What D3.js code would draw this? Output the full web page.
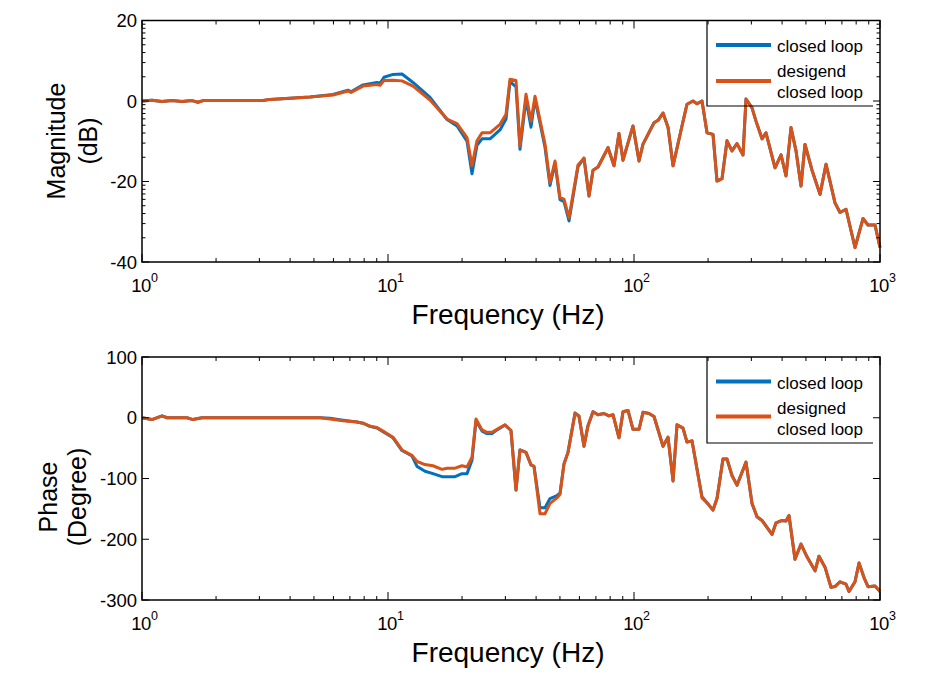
<!DOCTYPE html>
<html><head><meta charset="utf-8">
<script src="https://cdn.jsdelivr.net/npm/d3@7"></script>
<style>body{margin:0;background:#fff} text{font-family:Arial,"Liberation Sans",sans-serif;fill:#000}</style>
</head><body><svg id="c" width="940" height="674"></svg>
<script>
// ---- data ----
const magFreq = [1,1.098,1.206,1.324,1.454,1.597,1.689,1.770,3.104,3.314,4.818,5.976,6.878,7.07,7.914,9.02,9.28,9.63,10.48,11.40,12.64,14.82,17.37,19.08,20.95,21.95,23.00,24.11,25.98,28.53,30.18,31.33,33.14,34.40,36.39,38.13,39.59,43.47,45.56,47.74,50.03,51.93,54.42,59.22,62.62,65.63,68.14,71.41,78.41,82.94,86.90,90.23,99.06,104.8,108.8,120.6,125.2,131.2,137.5,144.1,156.7,164.2,173.7,180.4,189.0,198.1,209.5,217.5,227.9,238.8,250.2,262.2,277.4,285.3,301.8,313.3,331.4,344.0,374.4,396.0,414.9,434.7,455.6,477.4,495.6,529.2,570.4,603.3,656.3,687.8,727.5,791.4,853.0,893.8,954.4,1000];
const magDesigned = [0,0.2,-0.1,0.1,-0.1,0.1,-0.3,0.1,0.1,0.4,1,1.5,2.5,2.1,3.7,4.1,3.9,5.1,5.15,5.0,3.7,0.25,-4.5,-5.6,-9.1,-16.1,-9.9,-7.9,-7.9,-5.8,-3.3,5.4,5.1,-11.2,1.7,-5,1.2,-10.7,-20.3,-14.9,-24,-24.4,-29,-15.9,-14.2,-23.6,-17.2,-16.4,-11.6,-16.1,-8.1,-14.7,-6.2,-14.9,-10.7,-5.4,-4.8,-3,-6.5,-16.1,-6.2,-0.8,0,-0.7,0,-7.9,-8.3,-19.9,-19.3,-9.9,-12.4,-10.6,-13.4,0.5,-1.7,-5,-9.4,-7.9,-16.6,-13.4,-18.6,-6.6,-12.4,-21.1,-10.8,-17.2,-23.2,-15.7,-25.3,-27.7,-26.9,-36.4,-29.2,-30.8,-30.8,-36.4];
const magClosed = [0,0.2,-0.1,0.1,-0.1,0.1,-0.3,0.1,0.1,0.4,1,1.6,2.7,2.3,4.0,4.6,4.4,5.9,6.6,6.7,4.6,0.9,-4.6,-6.2,-10.0,-18.1,-11.0,-9.4,-9.4,-7.2,-4.5,4.8,3.5,-12.0,0.5,-6.5,0.5,-11.5,-21.0,-15.5,-24.5,-25,-29.8,-16.3,-14.2,-23.6,-17.2,-16.4,-11.6,-16.1,-8.1,-14.7,-6.2,-14.9,-10.7,-5.4,-4.8,-3,-6.5,-16.1,-6.2,-0.8,0,-0.7,0,-7.9,-8.3,-19.9,-19.3,-9.9,-12.4,-10.6,-13.4,0.5,-1.7,-5,-9.4,-7.9,-16.6,-13.4,-18.6,-6.6,-12.4,-21.1,-10.8,-17.2,-23.2,-15.7,-25.3,-27.7,-26.9,-36.4,-29.2,-30.8,-30.8,-36.4];

const phaseFreq = [1,1.098,1.206,1.264,1.523,1.612,1.753,5.291,5.811,6.563,7.482,7.914,8.451,9.02,9.546,10.48,11.40,12.52,13.12,14.14,15.23,16.58,17.37,18.73,19.99,20.95,21.95,22.79,24.11,25.26,26.48,27.74,29.90,31.62,33.14,34.40,36.39,38.13,39.22,41.48,43.47,45.56,48.64,50.03,51.93,53.91,57.58,59.77,62.62,65.01,68.14,71.41,75.51,79.14,82.15,86.90,90.23,94.54,99.06,104.8,108.8,115.1,120.6,131.2,137.5,144.1,149.6,158.2,164.2,172.1,189.0,198.1,209.5,217.5,230.0,238.8,250.2,262.2,285.3,301.8,316.2,331.4,363.9,377.9,399.6,414.9,426.7,451.3,477.4,505.0,544.4,564.9,597.6,632.1,656.3,687.8,727.5,748.2,791.4,821.6,861.0,893.8,954.4,1000];
const phaseDesigned = [0,-3,3,0,0,-3,0,0,-2,-5,-7,-9,-14,-16,-22,-32,-53,-62,-72,-77,-79,-85,-83,-83,-79,-81,-65,-2,-20,-24,-24,-19,-11.5,-21,-119,-53,-57,-77,-80,-158,-158,-141,-132,-126,-76,-57,7,2,-47,-13,10,5,7,3,5,-33,10,12,-19,-19,9,7,2,-47,-32,-104,-11.5,-17,-40,-38,-132,-140,-152,-133,-68,-68,-95,-111,-73,-141,-163,-169,-192,-173,-169,-170,-161,-233,-208,-229,-252,-228,-246,-279,-278,-270,-274,-286,-270,-239,-263,-278,-277,-286];
const phaseClosed = [0,-3,3,0,0,-3,0,0,-1,-4,-7,-9,-14,-17,-23,-33,-54,-63,-80,-88,-92,-97,-97,-97,-92,-92,-70,-5,-22,-26,-26,-20,-12,-21,-119,-53,-57,-78,-80,-148,-148,-133,-128,-124,-76,-57,8,3,-47,-13,10,5,7,3,5,-33,10,12,-19,-19,9,7,2,-47,-32,-104,-11.5,-17,-40,-38,-130,-140,-152,-133,-68,-68,-95,-111,-73,-141,-163,-169,-192,-173,-169,-170,-161,-233,-208,-229,-252,-228,-246,-279,-278,-270,-274,-286,-270,-239,-263,-278,-277,-286];

const freqTickExps = [0,1,2,3];
const magTicks = [20,0,-20,-40];
const phaseTicks = [100,0,-100,-200,-300];
const xTitle = "Frequency (Hz)";
const magTitle = ["Magnitude","(dB)"];
const phaseTitle = ["Phase","(Degree)"];
const legendTop = [["closed loop"],["desigend","closed loop"]];
const legendBottom = [["closed loop"],["designed","closed loop"]];
const colors = ["#0072BD","#D95319"];

const svg = d3.select("#c");
const x = d3.scaleLog().domain([1,1000]).range([142,880]);

function panel(o){
  const y = d3.scaleLinear().domain(o.ydom).range(o.yr);
  const g = svg.append("g");
  const top = o.yr[1], bot = o.yr[0], L = 142, R = 880;
  // curves
  const line = d3.line().x((d,i)=>x(o.freq[i])).y(d=>y(d));
  [o.closed,o.designed].forEach((s,k)=>{
    g.append("path").datum(s).attr("d",line).attr("fill","none")
     .attr("stroke",colors[k]).attr("stroke-width",3).attr("stroke-linejoin","round");
  });
  // x ticks (top & bottom)
  const minors = [];
  for(let e=0;e<3;e++) for(let k=2;k<=9;k++) minors.push(k*Math.pow(10,e));
  const tk = g.append("g").attr("stroke","#000").attr("stroke-width",1);
  freqTickExps.forEach(e=>{
    const xx = x(Math.pow(10,e));
    tk.append("line").attr("x1",xx).attr("x2",xx).attr("y1",bot).attr("y2",bot-8);
    tk.append("line").attr("x1",xx).attr("x2",xx).attr("y1",top).attr("y2",top+8);
  });
  minors.forEach(v=>{
    const xx = x(v);
    tk.append("line").attr("x1",xx).attr("x2",xx).attr("y1",bot).attr("y2",bot-4);
    tk.append("line").attr("x1",xx).attr("x2",xx).attr("y1",top).attr("y2",top+4);
  });
  // y ticks
  o.yticks.forEach(v=>{
    const yy = y(v);
    tk.append("line").attr("x1",L).attr("x2",L+7).attr("y1",yy).attr("y2",yy);
    tk.append("line").attr("x1",R).attr("x2",R-7).attr("y1",yy).attr("y2",yy);
  });
  if(o.yminor){
    const st = o.yticks[0]-o.yticks[1];
    o.yticks.slice(1).forEach(v=>{
      for(let k=2;k<=9;k++){
        const yy = y(v + st*Math.log10(k));
        tk.append("line").attr("x1",L).attr("x2",L+3.5).attr("y1",yy).attr("y2",yy);
        tk.append("line").attr("x1",R).attr("x2",R-3.5).attr("y1",yy).attr("y2",yy);
      }
    });
  }
  // frame
  g.append("rect").attr("x",L).attr("y",top).attr("width",R-L).attr("height",bot-top)
   .attr("fill","none").attr("stroke","#000").attr("stroke-width",1.5);
  // y tick labels
  o.yticks.forEach(v=>{
    g.append("text").attr("x",137).attr("y",y(v)+6.5).attr("text-anchor","end")
     .attr("font-size",18.5).text(v);
  });
  // x tick labels
  freqTickExps.forEach(e=>{
    const xx = x(Math.pow(10,e));
    g.append("text").attr("x",xx-1).attr("y",bot+30).attr("text-anchor","middle")
     .attr("font-size",18.5).attr("letter-spacing",-0.5).text("10");
    g.append("text").attr("x",xx+9).attr("y",bot+20).attr("font-size",12.5).text(e);
  });
  // x title
  g.append("text").attr("x",508).attr("y",bot+62).attr("text-anchor","middle")
   .attr("font-size",28).text(xTitle);
  // y title
  o.ytitle.forEach((t,i)=>{
    g.append("text").attr("transform",`translate(${o.ytx[i]},${o.tyc}) rotate(-90)`)
     .attr("text-anchor","middle").attr("font-size",25).text(t);
  });
  // legend
  const lg = g.append("g");
  lg.append("path").attr("d",`M707,${top}V${o.lgBottom}H873`).attr("fill","none")
    .attr("stroke","#000").attr("stroke-width",1.2);
  lg.append("line").attr("x1",716).attr("x2",771).attr("y1",top+o.lgY[0]).attr("y2",top+o.lgY[0])
    .attr("stroke",colors[0]).attr("stroke-width",4);
  lg.append("line").attr("x1",716).attr("x2",771).attr("y1",top+o.lgY[1]).attr("y2",top+o.lgY[1])
    .attr("stroke",colors[1]).attr("stroke-width",4);
  o.legend.forEach((lines,k)=>{
    lines.forEach((t,j)=>{
      lg.append("text").attr("x",777).attr("y",top+o.lgText[k]+j*21).attr("font-size",17).text(t);
    });
  });
}

panel({ydom:[-40,20], yr:[262,20.5], yticks:magTicks, yminor:true,
  freq:magFreq, closed:magClosed, designed:magDesigned,
  ytitle:magTitle, ytx:[65,97], tyc:141, legend:legendTop,
  lgBottom:106, lgY:[24.5,60.5], lgText:[31.5,56.5]});
panel({ydom:[-300,100], yr:[600,357], yticks:phaseTicks, yminor:false,
  freq:phaseFreq, closed:phaseClosed, designed:phaseDesigned,
  ytitle:phaseTitle, ytx:[57,86], tyc:497, legend:legendBottom,
  lgBottom:443, lgY:[24.5,59.5], lgText:[31.5,57]});
</script></body></html>
